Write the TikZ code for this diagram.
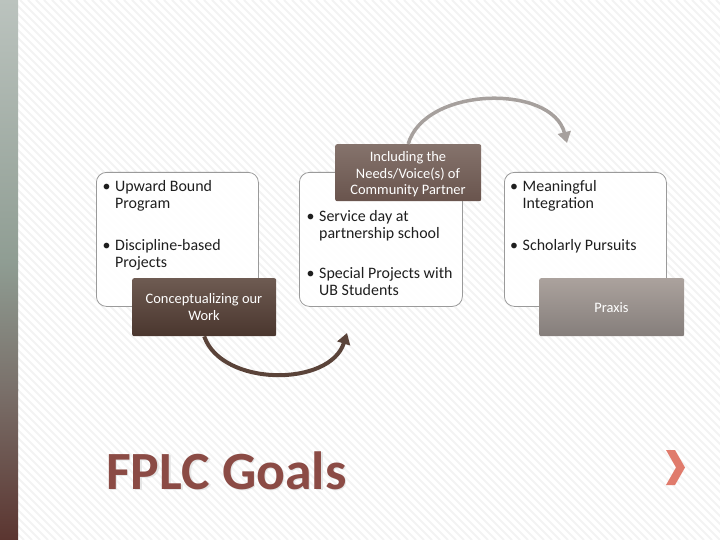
\documentclass[tikz,border=0pt]{standalone}
\usepackage{fontspec}
\setmainfont{Carlito}
\usetikzlibrary{arrows.meta}
\definecolor{boxline}{HTML}{9A9A9A}
\definecolor{darkA}{HTML}{6E5B52}
\definecolor{darkB}{HTML}{4A362E}
\definecolor{midA}{HTML}{85736C}
\definecolor{midB}{HTML}{69544D}
\definecolor{lightA}{HTML}{ABA29D}
\definecolor{lightB}{HTML}{857E7B}
\definecolor{arrowdark}{HTML}{5A4339}
\definecolor{arrowlight}{HTML}{A6A09D}
\definecolor{titlecol}{HTML}{8B4B45}
\definecolor{chevcol}{HTML}{E07B6C}
\definecolor{stripe}{HTML}{F3F3F3}
\definecolor{txt}{HTML}{1E1E1E}
\definecolor{barA}{HTML}{5B3530}
\definecolor{barB}{HTML}{7A706A}
\definecolor{barC}{HTML}{8F9D93}
\definecolor{barD}{HTML}{BBC3BE}
\tikzset{
  card/.style={draw=boxline, line width=0.8pt, fill=white, fill opacity=0.92, draw opacity=1,
    rounded corners=10bp, anchor=north west, inner sep=0pt},
  tag/.style={anchor=north west, inner sep=0pt, rounded corners=2bp, text=white,
    font=\fontsize{14.5}{16.5}\selectfont, align=center},
  bullets/.style={anchor=base west, inner sep=0pt, text=txt, font=\fontsize{16}{17}\selectfont},
  arc/.style={line width=4bp, -{Triangle[length=11bp,width=13bp]}},
}
\newcommand{\bitem}[2]{\begin{tabular}[t]{@{}p{12.5bp}@{}l@{}}\textbullet&#1\\&#2\end{tabular}}
\begin{document}
\begin{tikzpicture}[x=1bp,y=-1bp]
\useasboundingbox (0,0) rectangle (720,540);
\fill[white] (0,0) rectangle (720,540);
\begin{scope}
\clip (18,0) rectangle (720,540);
\foreach \i in {-540,-532,...,720}
  \draw[stripe, line width=2bp] (\i,0) -- (\i+540,540);
\end{scope}
\shade[top color=barD, bottom color=barC] (0,0) rectangle (18,262);
\shade[top color=barC, bottom color=barB] (0,261.5) rectangle (18,390);
\shade[top color=barB, bottom color=barA] (0,389.5) rectangle (18,540);

% cards
\node[card, minimum width=162bp, minimum height=134bp] (c1) at (96,172) {};
\node[card, minimum width=163bp, minimum height=134bp] (c2) at (299,172) {};
\node[card, minimum width=162bp, minimum height=134bp] (c3) at (504,172) {};

% bullets
\node[bullets] (t1a) at (102.5,192) {\bitem{Upward Bound}{Program}};
\node[bullets] (t1b) at (102.5,250.5) {\bitem{Discipline-based}{Projects}};
\node[bullets] (t2a) at (306.5,222) {\bitem{Service day at}{partnership school}};
\node[bullets] (t2b) at (306.5,279) {\bitem{Special Projects with}{UB Students}};
\node[bullets] (t3a) at (510,192) {\bitem{Meaningful}{Integration}};
\node[bullets] (t3b) at (510,250.5) {\bitem{Scholarly Pursuits}{}};

% tags
\node[tag, top color=darkA, bottom color=darkB, minimum width=144bp, minimum height=58bp] (l1) at (132,278) {};
\node[tag, anchor=base] (l1t) at (204,320) {Conceptualizing our\\Work};
\node[tag, top color=midA, bottom color=midB, minimum width=146bp, minimum height=57bp] (l2) at (335,144) {};
\node[tag, anchor=base] (l2t) at (408,194.5) {Including the\\Needs/Voice(s) of\\Community Partner};
\node[tag, top color=lightA, bottom color=lightB, minimum width=145bp, minimum height=58bp] (l3) at (539,278) {};
\node[tag, anchor=base] (l3t) at (611.5,312) {Praxis};

% arrows
\coordinate (e1) at (347,333);
\coordinate (e2) at (567,143);
\draw[arc, arrowdark] (l1.south) .. controls (222,387) and (330,387) .. (e1);
\draw[arc, arrowlight, line width=3.5bp] (l2.north) .. controls (425,86) and (552,84) .. (e2);

% title
\node[anchor=base west, inner sep=0pt, font=\fontsize{54}{54}\selectfont\bfseries, text=white!80!gray] (tsh) at (107.5,490.5) {FPLC Goals};
\node[anchor=base west, inner sep=0pt, font=\fontsize{54}{54}\selectfont\bfseries, text=titlecol] (title) at (106,489) {FPLC Goals};

% chevron
\fill[chevcol] (666,450) -- (675,450) -- (685,467.5) -- (675,485) -- (666,485) -- (676,467.5) -- cycle;
\end{tikzpicture}
\end{document}
